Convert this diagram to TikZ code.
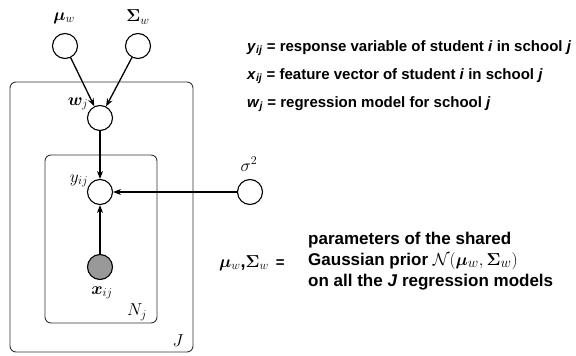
\documentclass[tikz,border=0pt]{standalone}
\usepackage{fontspec}
\setmainfont{Liberation Sans}
\usepackage{amsmath,bm}
\usetikzlibrary{arrows.meta}
\begin{document}
\begin{tikzpicture}[x=1pt,y=-1pt,
  var/.style={circle,draw,line width=1.1pt,minimum size=25pt,inner sep=0pt},
  obs/.style={var,fill=gray!80},
  plate/.style={draw,line width=0.9pt,rounded corners=6pt,draw=black!80},
  edge/.style={line width=1.3pt,-{Stealth[length=8pt,width=6pt]}},
  lab/.style={font=\fontsize{18}{20}\selectfont,inner sep=0pt},
  txt/.style={font=\fontsize{15}{18}\selectfont\bfseries,inner sep=0pt,anchor=west}]
\useasboundingbox (0,0) rectangle (576,356);
% plates
\draw[plate] (10,82) rectangle (193,352);
\draw[plate] (45,155) rectangle (157,323);
% nodes
\node[var] (mu) at (65,46) {};
\node[var] (sig) at (138,46) {};
\node[var] (w) at (100,118) {};
\node[var] (y) at (100,192) {};
\node[obs] (x) at (100,267) {};
\node[var] (s2) at (250,192) {};
% labels
\node[lab] (lmu) at (64,18) {$\bm{\mu}_w$};
\node[lab] (lsig) at (138,17) {$\bm{\Sigma}_w$};
\node[lab] (lw) at (78,104) {$\bm{w}_j$};
\node[lab] (ly) at (79,181) {$y_{ij}$};
\node[lab] (lx) at (102,293) {$\bm{x}_{ij}$};
\node[lab] (ls2) at (249,164) {$\sigma^2$};
\node[lab] (lN) at (137,312) {$N_j$};
\node[lab] (lJ) at (178,341) {$J$};
% edges
\draw[edge] (mu) -- (w);
\draw[edge] (sig) -- (w);
\draw[edge] (w) -- (y);
\draw[edge] (x) -- (y);
\draw[edge] (s2) -- (y);
% legend
\node[txt] (t1) at (247,48) {\textit{y}\textsubscript{\textit{ij}} = response variable of student \textit{i} in school \textit{j}};
\node[txt] (t2) at (247,76) {\textit{x}\textsubscript{\textit{ij}} = feature vector of student \textit{i} in school \textit{j}};
\node[txt] (t3) at (247,104) {\textit{w}\textsubscript{\textit{j}} = regression model for school \textit{j}};
\node[txt] (eq) at (219,263) {\fontsize{18}{20}\selectfont$\bm{\mu}_w$,$\bm{\Sigma}_w$\hspace{7pt}\fontsize{15}{18}\selectfont=};
\node[txt,align=left,font=\fontsize{17}{21}\selectfont\bfseries] (t4) at (308,261) {parameters of the shared\\Gaussian prior {\fontsize{19}{20}\selectfont$\mathcal{N}(\bm{\mu}_w,\bm{\Sigma}_w)$}\\on all the \textit{J} regression models};
\end{tikzpicture}
\end{document}
